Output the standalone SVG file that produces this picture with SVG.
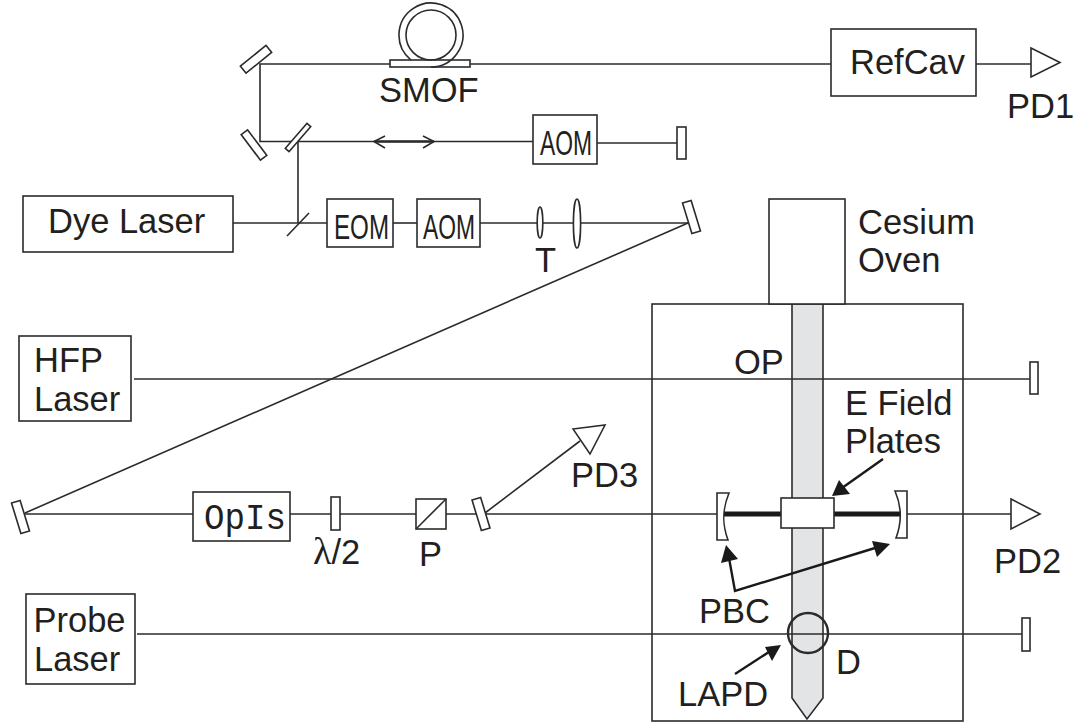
<svg xmlns="http://www.w3.org/2000/svg" width="1080" height="724" viewBox="0 0 1080 724">
<style>
.b{fill:#fff;stroke:#2b2b2b;stroke-width:1.6}
.l{fill:none;stroke:#2b2b2b;stroke-width:1.6}
.a{fill:none;stroke:#1a1a1a;stroke-width:2.4}
.h{fill:#1a1a1a;stroke:none}
text{font-family:"Liberation Sans",Arial,sans-serif;font-size:34.500px;fill:#231f20}
</style>
<rect width="1080" height="724" fill="#fff"/>
<g id="chamber"><rect class="b" x="652" y="304" width="311" height="417"/></g>
<g id="beam"><path d="M792 304V698L807 719L823 698V304Z" fill="#e3e4e5" stroke="#2b2b2b" stroke-width="1.6"/></g>
<g id="connectors">
<path class="l" d="M390 64H260V141.500H534"/>
<path class="l" d="M470 64H831"/>
<path class="l" d="M976 64H1031"/>
<path class="l" d="M597 143H677"/>
<path class="l" d="M298 141V223"/>
<path class="l" d="M233 223H327"/>
<path class="l" d="M393 223H417"/>
<path class="l" d="M480 223H688"/>
<path class="l" d="M688 223L25 513"/>
<path class="l" d="M25 514H193"/>
<path class="l" d="M290 514H416"/>
<path class="l" d="M446 514H718"/>
<path class="l" d="M485 513L580 441"/>
<path class="l" d="M906 514H1011"/>
<path class="l" d="M134 379H1030"/>
<path class="l" d="M137 634H1022"/>
<path class="l" d="M374 141.500H434" style="stroke-width:2.400"/>
<path class="l" d="M385 136L374 141.500L385 148M423 136L434 141.500L423 148"/>
<path d="M724 514H781M834 514H900" fill="none" stroke="#1a1a1a" stroke-width="5"/>
<path class="a" d="M729 558L735 591L875 548"/>
<path class="h" d="M726 545L738 559L721 563Z"/>
<path class="h" d="M890 544L877 557L872 541Z"/>
<path class="a" d="M883 459L842 488"/>
<path class="h" d="M832 496L839 480L850 494Z"/>
<path class="a" d="M735 674L772 650"/>
<path class="h" d="M781 645L772 661L765 647Z"/>
</g>
<g id="smof"><rect class="b" x="390" y="60" width="80" height="7"/><path class="l" d="M411 60A32 32 0 1 1 431 67"/><circle class="l" cx="431" cy="35" r="25"/><text x="379" y="102">SMOF</text></g>
<g id="refcav"><rect class="b" x="831" y="29" width="145" height="67"/><text x="850" y="74">RefCav</text></g>
<g id="pd1"><path class="b" d="M1031 48L1060 62.500L1031 77Z"/><text x="1007" y="118">PD1</text></g>
<g id="mirror1"><rect class="b" x="239.500" y="54.800" width="33" height="9" transform="rotate(-39 256 59.300)"/></g>
<g id="mirror2"><rect class="b" x="238" y="141" width="32" height="8" transform="rotate(53 254 145)"/></g>
<g id="bs1"><rect class="b" x="281.500" y="135" width="33" height="5" transform="rotate(-49 298 137.500)"/></g>
<g id="bs2"><path class="l" d="M287 236L309 213"/></g>
<g id="aom1"><rect class="b" x="533" y="115" width="64" height="49"/><text x="540" y="155" textLength="52" lengthAdjust="spacingAndGlyphs">AOM</text></g>
<g id="m3"><rect class="b" x="677" y="127" width="9" height="32"/></g>
<g id="dye"><rect class="b" x="23" y="196" width="210" height="56"/><text x="48" y="233">Dye Laser</text></g>
<g id="eom"><rect class="b" x="327" y="199" width="66" height="48"/><text x="334" y="239" textLength="55" lengthAdjust="spacingAndGlyphs">EOM</text></g>
<g id="aom2"><rect class="b" x="417" y="199" width="63" height="48"/><text x="423" y="239" textLength="52" lengthAdjust="spacingAndGlyphs">AOM</text></g>
<g id="lens1"><ellipse class="b" cx="540" cy="222.500" rx="2.800" ry="15.500"/><text x="535" y="272">T</text></g>
<g id="lens2"><ellipse class="b" cx="577" cy="223.500" rx="3.600" ry="24.500"/></g>
<g id="m4"><rect class="b" x="687" y="201" width="9" height="32" transform="rotate(-17 691.500 217)"/></g>
<g id="oven"><rect class="b" x="769" y="199" width="76" height="105"/><text x="858" y="234">Cesium</text><text x="858" y="272">Oven</text></g>
<g id="hfp"><rect class="b" x="19" y="336" width="112" height="85"/><text x="34" y="372">HFP</text><text x="34" y="411">Laser</text></g>
<g id="m5"><rect class="b" x="1030" y="362" width="8" height="32"/></g>
<text x="734" y="374">OP</text>
<g id="plates"><rect class="b" x="781" y="498" width="53" height="30"/><text x="845" y="415">E Field</text><text x="845" y="453">Plates</text></g>
<g id="m6"><rect class="b" x="16" y="501" width="9" height="32" transform="rotate(-17 20.500 517)"/></g>
<g id="opis"><rect class="b" x="193" y="492" width="97" height="49"/><text x="204" y="529" textLength="82" lengthAdjust="spacingAndGlyphs" style="font-family:'Liberation Mono',monospace;font-size:37px">OpIs</text></g>
<g id="wp"><rect class="b" x="331" y="497" width="9" height="33"/><text x="313" y="564"><tspan style="font-family:'Liberation Serif',serif;font-size:38px">λ</tspan>/2</text></g>
<g id="pol"><rect class="b" x="416" y="499" width="30" height="30"/><path class="l" d="M416 529L446 499"/><text x="419" y="566">P</text></g>
<g id="m7"><rect class="b" x="476.500" y="498" width="9" height="32" transform="rotate(-17 481 514)"/></g>
<g id="pd3"><path class="b" d="M573 429L605 425L590 454Z"/><text x="571" y="487">PD3</text></g>
<g id="pbcl"><path class="b" d="M717 493H729C722 510 722 524 728 540H717Z"/></g>
<g id="pbcr"><path class="b" d="M895 491H907V538H896C902 522 902 507 895 491Z"/></g>
<g id="pd2"><path class="b" d="M1011 499L1040 514L1011 529Z"/><text x="994" y="573">PD2</text></g>
<g id="probe"><rect class="b" x="26" y="594" width="109" height="90"/><text x="33.500" y="632">Probe</text><text x="34" y="671">Laser</text></g>
<g id="m8"><rect class="b" x="1022" y="618" width="8" height="33"/></g>
<text x="699" y="623">PBC</text>
<g id="d"><circle class="l" cx="808" cy="633" r="20" style="stroke-width:2.400"/><text x="836" y="674">D</text></g>
<text x="678" y="706">LAPD</text>
</svg>
